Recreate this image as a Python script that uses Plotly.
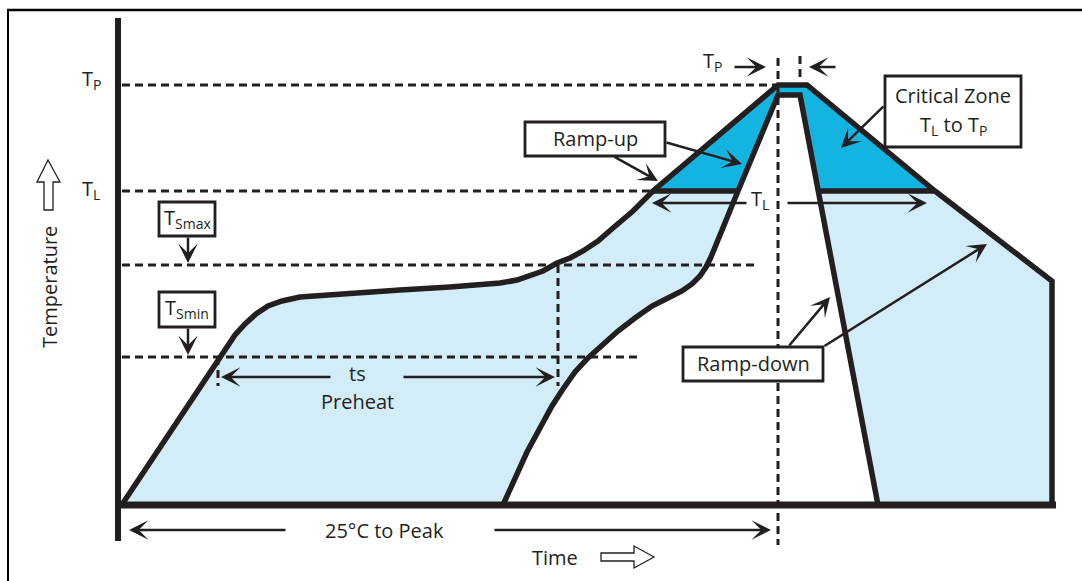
import plotly.graph_objects as go

# ---------------- data (time in px units, temperature in px-from-top units) ----------
outer_time = [123, 210, 218, 226, 235, 245, 256, 268, 282, 300, 350, 400, 450, 500, 517, 530, 543,
              557, 570, 583, 598, 613, 633, 653, 778, 807, 935, 1052, 1052]
outer_temp = [503, 372, 359, 347, 335, 324, 314, 306, 301, 297, 293, 290, 287, 283, 280, 276, 271,
              263, 258, 251, 241, 228, 211, 191, 85, 85, 191, 281, 505]

inner_time = [503, 515, 527, 540, 552, 563, 575, 588, 602, 618, 635, 652, 668, 682, 692, 700, 706,
              711, 738, 778, 800, 818, 878]
inner_temp = [505, 477, 452, 428, 406, 389, 372, 358, 345, 331, 318, 306, 298, 291, 284, 276, 267,
              257, 191, 95, 95, 191, 505]

level_names = ["TP", "TL", "Tsmax", "Tsmin"]
level_temp = [85, 191, 265, 357]
level_end_time = [780, 655, 755, 637]
base_temp = 505

T_L = level_temp[1]

LIGHT = "#d2edf8"
DARK = "#13b4e0"
INK = "#231f20"
FONT = "Open Sans"
FS = 20

fig = go.Figure()

# light band (outer outline + inner outline reversed)
band_x = outer_time + inner_time[::-1]
band_y = outer_temp + inner_temp[::-1]
fig.add_trace(go.Scatter(x=band_x, y=band_y, fill="toself", fillcolor=LIGHT, mode="none",
                         hoverinfo="skip"))

# critical zone (above T_L)
crit_x = [t for t, v in zip(outer_time, outer_temp) if v <= T_L] + \
         [t for t, v in zip(inner_time[::-1], inner_temp[::-1]) if v <= T_L]
crit_y = [v for v in outer_temp if v <= T_L] + [v for v in inner_temp[::-1] if v <= T_L]
fig.add_trace(go.Scatter(x=crit_x, y=crit_y, fill="toself", fillcolor=DARK, mode="none",
                         hoverinfo="skip"))

DASH = dict(color=INK, width=3, dash="8px,5px")
# dashed level lines
for v, xe in zip(level_temp, level_end_time):
    fig.add_trace(go.Scatter(x=[122, xe], y=[v, v], mode="lines", line=DASH, hoverinfo="skip"))
# dashed vertical markers
peak_start = outer_time[outer_temp.index(level_temp[0])]
fig.add_trace(go.Scatter(x=[peak_start, peak_start], y=[58, 545], mode="lines",
                         line=DASH, hoverinfo="skip"))
fig.add_trace(go.Scatter(x=[800, 800], y=[56, 80], mode="lines", line=DASH, hoverinfo="skip"))
fig.add_trace(go.Scatter(x=[558, 558], y=[level_temp[2], 386], mode="lines",
                         line=DASH, hoverinfo="skip"))
fig.add_trace(go.Scatter(x=[218, 218], y=[level_temp[3], 386], mode="lines",
                         line=DASH, hoverinfo="skip"))

# profile outlines
fig.add_trace(go.Scatter(x=outer_time, y=outer_temp, mode="lines",
                         line=dict(color=INK, width=5.5), hoverinfo="skip"))
fig.add_trace(go.Scatter(x=inner_time, y=inner_temp, mode="lines",
                         line=dict(color=INK, width=5.5), hoverinfo="skip"))
# T_L bars
left_tl = [653, 738]
right_tl = [818, 935]
for seg in (left_tl, right_tl):
    fig.add_trace(go.Scatter(x=seg, y=[T_L, T_L], mode="lines",
                             line=dict(color=INK, width=5.5), hoverinfo="skip"))

shapes = []
# axes
shapes.append(dict(type="line", x0=118, x1=118, y0=18, y1=541, line=dict(color=INK, width=6)))
shapes.append(dict(type="line", x0=115, x1=1056, y0=base_temp, y1=base_temp,
                   line=dict(color=INK, width=7)))
# frame
shapes.append(dict(type="line", x0=8, x1=8, y0=9, y1=585, line=dict(color="black", width=2)))
shapes.append(dict(type="line", x0=7, x1=1090, y0=10, y1=10, line=dict(color="black", width=2.5)))
# hollow arrows
shapes.append(dict(type="path", path="M48,160 L60,182 L53,182 L53,210 L44,210 L44,182 L37,182 Z",
                   fillcolor="white", line=dict(color=INK, width=1.3)))
shapes.append(dict(type="path", path="M654,557 L634,546 L634,553 L601,553 L601,561 L634,561 L634,568 Z",
                   fillcolor="white", line=dict(color=INK, width=1.3)))
# label boxes
boxes = [(159, 202, 215, 236), (159, 292, 215, 327), (525, 122, 665, 156),
         (885, 76, 1021, 147), (683, 347, 823, 381)]
for x0, y0, x1, y1 in boxes:
    shapes.append(dict(type="rect", x0=x0, x1=x1, y0=y0, y1=y1, fillcolor="white",
                       line=dict(color=INK, width=2.8)))
fig.update_layout(shapes=shapes)

ann = []


def text(x, y, s, size=FS, **kw):
    ann.append(dict(x=x, y=y, text=s, showarrow=False, xref="x", yref="y",
                    font=dict(family=FONT, size=size, color=INK), **kw))


def arrow(x, y, ax, ay):
    ann.append(dict(x=x, y=y, ax=ax, ay=ay, xref="x", yref="y", axref="x", ayref="y",
                    text="", showarrow=True, arrowhead=3, arrowsize=1.3, arrowwidth=2.5,
                    arrowcolor=INK, standoff=0))


text(91, 79, "T<sub>P</sub>")
text(91, 189, "T<sub>L</sub>")
text(49, 287, "Temperature", textangle=-90)
text(187, 218, "T<sub>Smax</sub>")
text(187, 308, "T<sub>Smin</sub>")
arrow(188, 263, 188, 236)
arrow(188, 355, 188, 327)

text(357, 373, "ts")
text(357, 401, "Preheat")
arrow(221, 377, 332, 377)
arrow(555, 377, 402, 377)

text(384, 530, "25°C to Peak")
arrow(129, 530, 287, 530)
arrow(771, 530, 493, 530)
text(555, 557, "Time")

text(712, 61, "T<sub>P</sub>")
arrow(766, 67, 733, 67)
arrow(809, 67, 837, 67)

text(760, 199, "T<sub>L</sub>")
arrow(652, 203, 748, 203)
arrow(927, 203, 786, 203)

text(595, 138, "Ramp-up")
arrow(742, 164, 665, 142)
arrow(658, 181, 613, 156)

text(953, 95, "Critical Zone")
text(953, 125, "T<sub>L</sub> to T<sub>P</sub>")
arrow(841, 148, 885, 105)

text(753, 363, "Ramp-down")
arrow(830, 297, 788, 347)
arrow(987, 244, 823, 347)

fig.update_layout(
    annotations=ann,
    width=1082, height=581, autosize=False,
    margin=dict(l=0, r=0, t=0, b=0),
    paper_bgcolor="white", plot_bgcolor="white",
    showlegend=False,
    xaxis=dict(range=[0, 1082], visible=False, fixedrange=True),
    yaxis=dict(range=[581, 0], visible=False, fixedrange=True),
)

fig.write_html("out.html", config={"displayModeBar": False},
               post_script="document.body.style.margin='0px';"
                           "document.body.style.overflow='hidden';")
